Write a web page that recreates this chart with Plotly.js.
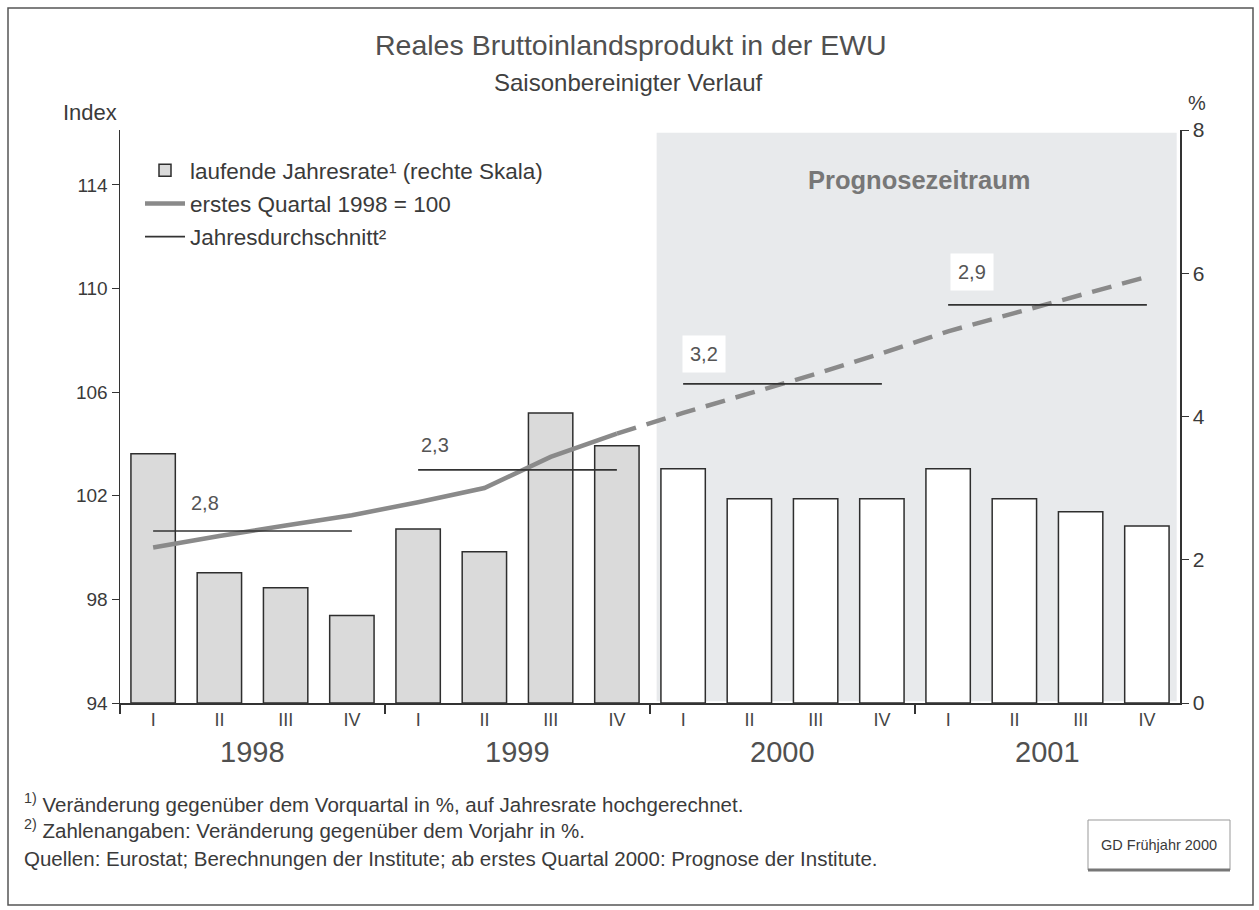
<!DOCTYPE html>
<html><head><meta charset="utf-8">
<script src="https://cdn.plot.ly/plotly-3.0.1.min.js"></script>
<style>html,body{margin:0;padding:0;background:#fff}#chart{width:1259px;height:910px}</style>
</head><body><div id="chart"></div>
<script>
// ---- data ----
const quarterLabels = ['I','II','III','IV','I','II','III','IV','I','II','III','IV','I','II','III','IV'];
const years = ['1998','1999','2000','2001'];
const rateHist = [3.48, 1.82, 1.61, 1.22, 2.43, 2.11, 4.05, 3.59];   // laufende Jahresrate, 1998-1999
const rateFcst = [3.27, 2.85, 2.85, 2.85, 3.27, 2.85, 2.67, 2.47];   // Prognose 2000-2001
const indexHist = [100.0, 100.45, 100.85, 101.25, 101.75, 102.3, 103.5, 104.4]; // 1998Q1 = 100
const indexFcst = [105.2, 105.95, 106.7, 107.5, 108.35, 109.05, 109.75, 110.45];
const annualAvg = [100.64, 103.0, 106.32, 109.37];
const annualLabels = ['2,8', '2,3', '3,2', '2,9'];

// ---- derived ----
const xAll = quarterLabels.map((_, i) => i);
const xHist = xAll.slice(0, rateHist.length);
const xFcst = xAll.slice(rateHist.length);
const nH = indexHist.length;
const xDash = [xHist[nH - 1]].concat(xFcst);
const yDash = [indexHist[nH - 1]].concat(indexFcst);
const avgX = [], avgY = [];
years.forEach((y, i) => { avgX.push(4 * i, 4 * i + 3, null); avgY.push(annualAvg[i], annualAvg[i], null); });

const FONT = '"Liberation Sans", Arial, Helvetica, sans-serif';
const TXT = '#3a3a3a';
const BAR_LINE = '#2e2e2e';
const IDX = '#8a8a8a';

const traces = [
  { type: 'bar', x: xHist, y: rateHist, yaxis: 'y', name: 'laufende Jahresrate¹ (rechte Skala)',
    legendgroup: 'a', marker: { color: '#dadada', line: { color: BAR_LINE, width: 1.5 } }, hoverinfo: 'skip' },
  { type: 'bar', x: xFcst, y: rateFcst, yaxis: 'y', showlegend: false, legendgroup: 'a',
    marker: { color: '#ffffff', line: { color: BAR_LINE, width: 1.5 } }, hoverinfo: 'skip' },
  { type: 'scatter', mode: 'lines', x: xHist, y: indexHist, yaxis: 'y2', name: 'erstes Quartal 1998 = 100',
    legendgroup: 'b', line: { color: IDX, width: 4.5 }, hoverinfo: 'skip' },
  { type: 'scatter', mode: 'lines', x: xDash, y: yDash, yaxis: 'y2', showlegend: false, legendgroup: 'b',
    line: { color: IDX, width: 4.5, dash: '20px,11px' }, hoverinfo: 'skip' },
  { type: 'scatter', mode: 'lines', x: avgX, y: avgY, yaxis: 'y2', name: 'Jahresdurchschnitt²',
    legendgroup: 'c', connectgaps: false, line: { color: '#333', width: 1.6 }, hoverinfo: 'skip' }
];

// label offsets relative to (first quarter of year, annual average)
const labelOff = [[0.78, 1.08], [0.25, 0.96], [0.32, 1.15], [0.36, 1.27]];
const px = v => (v - 120) / 1060;      // page px -> paper x
const py = v => (703 - v) / 573;       // page px -> paper y

function note(text, x, y, size, color, extra) {
  return Object.assign({ text: text, x: px(x), y: py(y), xref: 'paper', yref: 'paper', showarrow: false,
    xanchor: 'center', yanchor: 'middle', font: { family: FONT, size: size, color: color } }, extra || {});
}

const annotations = [
  note('Reales Bruttoinlandsprodukt in der EWU', 631, 45, 28.5, '#505050'),
  note('Saisonbereinigter Verlauf', 628, 83, 24, '#404040'),
  note('Index', 90, 112, 22, TXT),
  note('%', 1197, 103, 20, TXT),
  note('<b>Prognosezeitraum</b>', 919, 180, 25.5, '#777'),
  note('<sup>1)</sup> Veränderung gegenüber dem Vorquartal in %, auf Jahresrate hochgerechnet.', 22, 803, 20.5, TXT, { xanchor: 'left' }),
  note('<sup>2)</sup> Zahlenangaben: Veränderung gegenüber dem Vorjahr in %.', 22, 829, 20.5, TXT, { xanchor: 'left' }),
  note('Quellen: Eurostat; Berechnungen der Institute; ab erstes Quartal 2000: Prognose der Institute.', 22, 858, 20.5, TXT, { xanchor: 'left' }),
  note('GD Frühjahr 2000', 1159, 845, 14.5, TXT)
];
years.forEach((y, i) => {
  annotations.push({ text: y, x: 4 * i + 1.5, xref: 'x', y: py(752), yref: 'paper', showarrow: false,
    xanchor: 'center', yanchor: 'middle', font: { family: FONT, size: 29, color: '#505050' } });
});
annualLabels.forEach((t, i) => {
  const boxed = i >= 2;
  annotations.push({ text: t, x: 4 * i + labelOff[i][0], xref: 'x', y: annualAvg[i] + labelOff[i][1], yref: 'y2',
    showarrow: false, xanchor: 'center', yanchor: 'middle', bgcolor: boxed ? '#ffffff' : 'rgba(0,0,0,0)', borderpad: 7,
    font: { family: FONT, size: 20, color: '#555' } });
});

const shapes = [
  { type: 'rect', xref: 'x', yref: 'paper', x0: 7.6, x1: 15.45, y0: 0.003, y1: 0.995,
    fillcolor: '#e8eaec', line: { width: 0 }, layer: 'below' },
  { type: 'rect', xref: 'paper', yref: 'paper', x0: px(8), x1: px(1253), y0: py(905), y1: py(8),
    line: { color: '#555', width: 1.5 }, fillcolor: 'rgba(0,0,0,0)', layer: 'below' },
  { type: 'rect', xref: 'paper', yref: 'paper', x0: px(1088), x1: px(1230), y0: py(870), y1: py(820),
    line: { color: '#999', width: 1 }, fillcolor: '#ffffff', layer: 'below' },
  { type: 'line', xref: 'paper', yref: 'paper', x0: px(1088), x1: px(1230), y0: py(870), y1: py(870),
    line: { color: '#777', width: 3 }, layer: 'below' }
];

const layout = {
  width: 1259, height: 910,
  margin: { l: 120, r: 79, t: 130, b: 207 },
  paper_bgcolor: '#ffffff', plot_bgcolor: 'rgba(0,0,0,0)',
  font: { family: FONT, color: TXT },
  barmode: 'overlay', bargap: 0.33,
  showlegend: true,
  legend: { x: px(140), y: py(149), xanchor: 'left', yanchor: 'top', bgcolor: 'rgba(0,0,0,0)',
    font: { family: FONT, size: 22.5, color: TXT }, itemwidth: 40, traceorder: 'grouped', tracegroupgap: 1 },
  xaxis: { range: [-0.5, 15.5], tickmode: 'array', tickvals: xAll, ticktext: quarterLabels, ticks: '',
    showline: true, linecolor: '#333', linewidth: 1.5, showgrid: false, zeroline: false,
    tickfont: { family: FONT, size: 18, color: '#444' },
    minor: { tickmode: 'array', tickvals: [-0.5, 3.5, 7.5, 11.5], ticks: 'outside', ticklen: 9, tickcolor: '#333', tickwidth: 1.2 } },
  yaxis: { side: 'right', range: [0, 8], tickmode: 'linear', tick0: 0, dtick: 2, ticks: 'outside', ticklen: 7,
    tickcolor: '#333', showline: true, linecolor: '#333', linewidth: 1.5, showgrid: false, zeroline: false,
    tickfont: { family: FONT, size: 21, color: TXT } },
  yaxis2: { overlaying: 'y', side: 'left', range: [94, 116.12], tickmode: 'array', tickvals: [94, 98, 102, 106, 110, 114],
    ticks: 'outside', ticklen: 7, tickcolor: '#333', showline: true, linecolor: '#333', linewidth: 1.5,
    showgrid: false, zeroline: false, tickfont: { family: FONT, size: 19, color: TXT } },
  annotations: annotations,
  shapes: shapes
};

Plotly.newPlot('chart', traces, layout, { staticPlot: true, displayModeBar: false });
</script></body></html>
